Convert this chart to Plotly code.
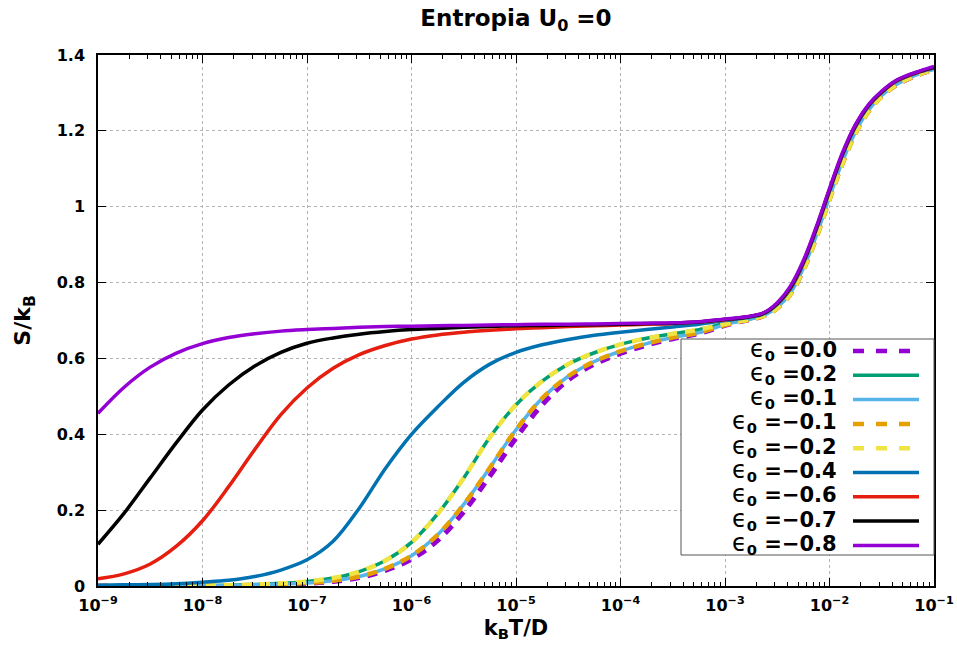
import plotly.graph_objects as go

# log10(k_B T / D) sample points
LOG_T = [-9.0, -8.75, -8.5, -8.25, -8.0, -7.75, -7.5, -7.25,
         -7.0, -6.75, -6.5, -6.25, -6.0, -5.75, -5.5, -5.25,
         -5.0, -4.75, -4.5, -4.25, -4.0, -3.75, -3.5, -3.25,
         -3.0, -2.875, -2.75, -2.625, -2.5, -2.375, -2.25, -2.125,
         -2.0, -1.875, -1.75, -1.625, -1.5, -1.375, -1.25, -1.125, -1.0]

# entropy S/k_B for each epsilon_0
S_EPS_0P0 = [0.000, 0.000, 0.000, 0.001, 0.001, 0.001, 0.002, 0.004,
             0.007, 0.012, 0.022, 0.041, 0.071, 0.120, 0.196, 0.290,
             0.390, 0.478, 0.543, 0.585, 0.613, 0.635, 0.652, 0.666,
             0.687, 0.696, 0.703, 0.713, 0.734, 0.771, 0.836, 0.923,
             1.023, 1.118, 1.197, 1.254, 1.292, 1.319, 1.337, 1.351, 1.362]
S_EPS_P0P2 = [0.000, 0.000, 0.001, 0.001, 0.001, 0.002, 0.004, 0.007,
              0.012, 0.021, 0.038, 0.067, 0.115, 0.190, 0.285, 0.392,
              0.478, 0.540, 0.585, 0.615, 0.637, 0.653, 0.665, 0.676,
              0.692, 0.698, 0.705, 0.715, 0.737, 0.775, 0.842, 0.930,
              1.030, 1.125, 1.203, 1.259, 1.296, 1.323, 1.340, 1.354, 1.364]
S_EPS_P0P1 = [0.000, 0.000, 0.000, 0.001, 0.001, 0.001, 0.003, 0.005,
              0.008, 0.014, 0.025, 0.046, 0.080, 0.135, 0.215, 0.312,
              0.412, 0.495, 0.553, 0.592, 0.619, 0.639, 0.655, 0.668,
              0.689, 0.697, 0.704, 0.714, 0.735, 0.772, 0.838, 0.925,
              1.025, 1.120, 1.198, 1.255, 1.293, 1.320, 1.338, 1.352, 1.362]
S_EPS_M0P1 = [0.000, 0.000, 0.000, 0.001, 0.001, 0.001, 0.003, 0.005,
              0.008, 0.014, 0.025, 0.046, 0.080, 0.135, 0.215, 0.312,
              0.412, 0.495, 0.553, 0.592, 0.619, 0.639, 0.655, 0.668,
              0.688, 0.696, 0.703, 0.712, 0.732, 0.768, 0.832, 0.918,
              1.018, 1.113, 1.193, 1.251, 1.290, 1.318, 1.336, 1.350, 1.361]
S_EPS_M0P2 = [0.000, 0.000, 0.001, 0.001, 0.001, 0.002, 0.004, 0.007,
              0.012, 0.021, 0.038, 0.067, 0.115, 0.190, 0.285, 0.392,
              0.478, 0.540, 0.585, 0.615, 0.637, 0.653, 0.665, 0.676,
              0.691, 0.697, 0.704, 0.713, 0.733, 0.770, 0.835, 0.921,
              1.021, 1.116, 1.195, 1.253, 1.291, 1.319, 1.337, 1.351, 1.362]
S_EPS_M0P4 = [0.002, 0.003, 0.004, 0.006, 0.010, 0.015, 0.025, 0.042,
              0.069, 0.118, 0.205, 0.310, 0.400, 0.472, 0.537, 0.585,
              0.616, 0.636, 0.650, 0.661, 0.669, 0.676, 0.683, 0.690,
              0.700, 0.704, 0.709, 0.718, 0.742, 0.782, 0.850, 0.940,
              1.040, 1.136, 1.211, 1.265, 1.301, 1.328, 1.344, 1.356, 1.366]
S_EPS_M0P6 = [0.019, 0.032, 0.058, 0.105, 0.172, 0.262, 0.360, 0.452,
              0.522, 0.574, 0.610, 0.634, 0.651, 0.662, 0.669, 0.674,
              0.678, 0.681, 0.684, 0.686, 0.688, 0.690, 0.692, 0.696,
              0.702, 0.706, 0.711, 0.720, 0.744, 0.785, 0.853, 0.943,
              1.043, 1.139, 1.214, 1.267, 1.302, 1.329, 1.345, 1.357, 1.367]
S_EPS_M0P7 = [0.110, 0.192, 0.285, 0.378, 0.464, 0.530, 0.580, 0.616,
              0.640, 0.654, 0.664, 0.671, 0.676, 0.679, 0.682, 0.684,
              0.686, 0.687, 0.688, 0.689, 0.690, 0.692, 0.693, 0.696,
              0.703, 0.706, 0.711, 0.720, 0.745, 0.787, 0.855, 0.945,
              1.045, 1.140, 1.215, 1.268, 1.303, 1.330, 1.346, 1.358, 1.368]
S_EPS_M0P8 = [0.455, 0.524, 0.577, 0.614, 0.639, 0.655, 0.665, 0.672,
              0.676, 0.679, 0.682, 0.684, 0.685, 0.686, 0.687, 0.688,
              0.689, 0.690, 0.690, 0.691, 0.692, 0.693, 0.694, 0.697,
              0.704, 0.707, 0.712, 0.721, 0.747, 0.790, 0.858, 0.948,
              1.048, 1.143, 1.218, 1.270, 1.305, 1.331, 1.347, 1.359, 1.370]

EPS = [0.0, 0.2, 0.1, -0.1, -0.2, -0.4, -0.6, -0.7, -0.8]
S_SERIES = [S_EPS_0P0, S_EPS_P0P2, S_EPS_P0P1, S_EPS_M0P1, S_EPS_M0P2,
            S_EPS_M0P4, S_EPS_M0P6, S_EPS_M0P7, S_EPS_M0P8]
COLORS = ["#9400d3", "#009e73", "#56b4e9", "#e69f00", "#f0e442",
          "#0072b2", "#e51e10", "#000000", "#9400d3"]
DASHED = [True, False, False, True, True, False, False, False, False]
WIDTHS = [5, 3.5, 3.5, 4.5, 4.5, 3.5, 3.5, 3.5, 3.5]

X_TICK_EXP = [-9, -8, -7, -6, -5, -4, -3, -2, -1]
Y_TICKS = [0, 0.2, 0.4, 0.6, 0.8, 1.0, 1.2, 1.4]
Y_TICK_TEXT = ["0", "0.2", "0.4", "0.6", "0.8", "1", "1.2", "1.4"]

T = [10 ** e for e in LOG_T]

FONT = "DejaVu Sans"
W, H = 957, 652
L, R, TOP, BOT = 98, 934, 55, 586  # plot-area edges in pixels


def px_x(p):
    return (p - L) / (R - L)


def px_y(p):
    return (BOT - p) / (BOT - TOP)


fig = go.Figure()
for eps, s, col, dashed, w in zip(EPS, S_SERIES, COLORS, DASHED, WIDTHS):
    fig.add_trace(go.Scatter(
        x=T, y=s, mode="lines",
        line=dict(color=col, width=w, shape="spline", smoothing=1.0,
                  dash="10px,8px" if dashed else "solid"),
        name=f"ε0={eps:.1f}", showlegend=False, hoverinfo="skip",
    ))

minor_vals = [m * 10 ** e for e in X_TICK_EXP[:-1] for m in range(2, 10)]

fig.update_xaxes(
    type="log", range=[-9, -1], automargin=False,
    tickvals=[10 ** e for e in X_TICK_EXP],
    ticktext=[f"<b>10<sup>{str(e).replace('-', '−')}</sup></b>" for e in X_TICK_EXP],
    ticks="inside", ticklen=8, tickwidth=1, tickcolor="black",
    showline=True, linecolor="black", linewidth=1.5, mirror="ticks",
    showgrid=True, gridcolor="#b4b4b4", griddash="dot", gridwidth=1,
    minor=dict(tickvals=minor_vals, ticks="inside", ticklen=4,
               tickcolor="black", tickwidth=1, showgrid=False),
    tickfont=dict(family=FONT, size=16, color="black"),
    ticklabelstandoff=4,
    title=dict(text="<b>k<sub>B</sub>T/D</b>",
               font=dict(family=FONT, size=21, color="black"), standoff=6),
    zeroline=False,
)
fig.update_yaxes(
    range=[0, 1.4], automargin=False,
    tickvals=Y_TICKS,
    ticktext=[f"<b>{t}</b>" for t in Y_TICK_TEXT],
    ticks="inside", ticklen=8, tickwidth=1, tickcolor="black",
    showline=True, linecolor="black", linewidth=1.5, mirror="ticks",
    showgrid=True, gridcolor="#b4b4b4", griddash="dot", gridwidth=1,
    tickfont=dict(family=FONT, size=16, color="black"),
    ticklabelstandoff=8,
    title=dict(text="<b>S/k<sub>B</sub></b>",
               font=dict(family=FONT, size=22, color="black"), standoff=20),
    zeroline=False,
)

# legend box drawn by hand: labels on the left, line samples on the right
shapes = [dict(type="rect", xref="paper", yref="paper",
               x0=px_x(681), x1=px_x(934), y0=px_y(555), y1=px_y(339),
               line=dict(color="#555555", width=1), fillcolor="white",
               layer="above")]
annotations = []
for i, (eps, col, dashed, w) in enumerate(zip(EPS, COLORS, DASHED, WIDTHS)):
    yc = 350 + i * 24.3
    label = f"{eps:.1f}".replace("-", "−")
    annotations.append(dict(
        xref="paper", yref="paper", x=px_x(839), y=px_y(yc - 1),
        xanchor="right", yanchor="middle", showarrow=False,
        text=(f"<span style='font-size:24px'>ϵ</span>"
              f"<b><sub>0</sub> ={label}</b>"),
        font=dict(family=FONT, size=21, color="black"),
    ))
    shapes.append(dict(
        type="line", xref="paper", yref="paper",
        x0=px_x(853), x1=px_x(919), y0=px_y(yc + 1), y1=px_y(yc + 1),
        line=dict(color=col, width=4.5 if dashed else 3.5,
                  dash="11px,12px" if dashed else "solid"),
        layer="above",
    ))

fig.update_layout(
    width=W, height=H,
    margin=dict(l=L, r=W - R, t=TOP, b=H - BOT),
    plot_bgcolor="white", paper_bgcolor="white",
    showlegend=False,
    title=dict(text="<b>Entropia U<sub>0</sub> =0</b>",
               font=dict(family=FONT, size=23, color="black"),
               x=0.5, xref="paper", xanchor="center",
               y=1 - 18 / H, yref="container", yanchor="middle"),
    shapes=shapes,
    annotations=annotations,
)

fig.write_html("out.html")
